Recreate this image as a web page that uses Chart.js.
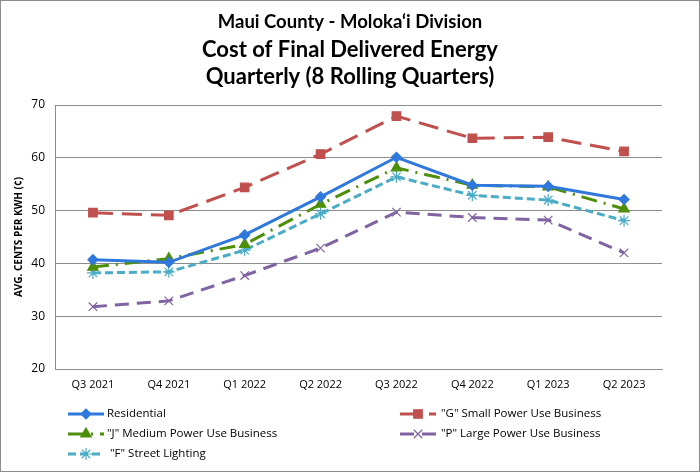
<!DOCTYPE html>
<html>
<head>
<meta charset="utf-8">
<script src="https://cdn.jsdelivr.net/npm/chart.js@4/dist/chart.umd.min.js"></script>
<style>
    html, body { margin: 0; padding: 0; background: #fff; }
    #wrap { position: relative; width: 698px; height: 470px; border: 1px solid #8c8c8c; }
</style>
</head>
<body>
<div id="wrap"><canvas id="costChart" width="698" height="470"></canvas></div>
<script>
// quarters on the x axis
const quarters = ['Q3 2021', 'Q4 2021', 'Q1 2022', 'Q2 2022', 'Q3 2022', 'Q4 2022', 'Q1 2023', 'Q2 2023'];

// avg cents per kWh
const residential = [40.7, 40.2, 45.4, 52.6, 60.1, 54.8, 54.6, 52.1];
const smallPower  = [49.6, 49.1, 54.4, 60.7, 67.9, 63.7, 63.9, 61.2];
const mediumPower = [39.3, 40.9, 43.6, 51.2, 58.1, 54.8, 54.5, 50.3];
const largePower  = [31.8, 32.9, 37.7, 42.9, 49.7, 48.7, 48.2, 42.0];
const streetLight = [38.2, 38.4, 42.5, 49.4, 56.4, 52.9, 52.0, 48.1];

const yTicks = [20, 30, 40, 50, 60, 70];

const titleLines = ['Maui County - Moloka‘i Division', 'Cost of Final Delivered Energy', 'Quarterly (8 Rolling Quarters)'];

const FONT = "'Open Sans', 'DejaVu Sans', sans-serif";
const TITLE_FONT = "Lato, 'Noto Sans', sans-serif";

function series(label, data, color, dash, style, radius) {
    return {
        label: label,
        data: data,
        borderColor: color,
        backgroundColor: color,
        borderWidth: 3,
        borderDash: dash,
        pointStyle: style,
        pointRadius: radius,
        pointHoverRadius: radius,
        pointBackgroundColor: color,
        pointBorderColor: color,
        pointBorderWidth: 1.2,
        tension: 0
    };
}

// title centred on the whole canvas (built-in one centres on the padded box)
const centredTitle = {
    id: 'centredTitle',
    afterDraw(chart) {
        const ctx = chart.ctx;
        const cx = chart.width / 2;
        ctx.save();
        ctx.fillStyle = '#000';
        ctx.textAlign = 'center';
        ctx.textBaseline = 'middle';
        ctx.font = 'bold 18.5px ' + TITLE_FONT;
        ctx.fillText(titleLines[0], cx, 21);
        ctx.font = 'bold 22px ' + TITLE_FONT;
        ctx.fillText(titleLines[1], cx, 49);
        ctx.fillText(titleLines[2], cx, 76);
        ctx.restore();
    }
};

// draws the two-column legend under the axis
const bottomLegend = {
    id: 'bottomLegend',
    afterDraw(chart) {
        const ctx = chart.ctx;
        const spots = [[67, 413, 106], [399, 413, 440], [67, 433, 106], [399, 433, 440], [67, 453, 109]];
        chart.data.datasets.forEach((ds, i) => {
            const [x, y, tx] = spots[i];
            ctx.save();
            ctx.strokeStyle = ds.borderColor;
            ctx.lineWidth = 3;
            ctx.setLineDash(ds.borderDash || []);
            ctx.beginPath();
            ctx.moveTo(x, y);
            ctx.lineTo(x + 36, y);
            ctx.stroke();
            ctx.setLineDash([]);
            ctx.fillStyle = ds.pointBackgroundColor;
            ctx.strokeStyle = ds.pointBorderColor;
            ctx.lineWidth = ds.pointBorderWidth;
            Chart.helpers.drawPoint(ctx, { pointStyle: ds.pointStyle, radius: ds.pointRadius, borderWidth: ds.pointBorderWidth }, x + 18, y);
            ctx.fillStyle = '#000';
            ctx.font = '11.5px ' + FONT;
            ctx.textBaseline = 'middle';
            ctx.textAlign = 'left';
            ctx.fillText(ds.label, tx, y);
            ctx.restore();
        });
    }
};

const ctx = document.getElementById('costChart').getContext('2d');
const costChart = new Chart(ctx, {
    type: 'line',
    data: {
        labels: quarters,
        datasets: [
            series('Residential', residential, '#2f78dc', [], 'rectRot', 5),
            series('"G" Small Power Use Business', smallPower, '#c0504d', [20, 9], 'rect', 6),
            series('"J" Medium Power Use Business', mediumPower, '#4e8f0a', [16, 7, 2, 7], 'triangle', 6),
            series('"P" Large Power Use Business', largePower, '#8064a2', [14, 8], 'crossRot', 6),
            series('"F" Street Lighting', streetLight, '#4bacc6', [8, 4], 'star', 6)
        ]
    },
    options: {
        responsive: false,
        animation: false,
        devicePixelRatio: 1,
        layout: { padding: { left: 0, right: 37, top: 104, bottom: 78 } },
        plugins: {
            legend: { display: false },
            tooltip: { enabled: false },
            title: { display: false }
        },
        scales: {
            x: {
                offset: true,
                grid: { display: false, drawTicks: false },
                border: { color: '#8c8c8c' },
                ticks: { color: '#000', font: { family: FONT, size: 11 }, padding: 9, maxRotation: 0 },
                afterFit(scale) { scale.height = 24; }
            },
            y: {
                min: 20,
                max: 70,
                afterBuildTicks(scale) { scale.ticks = yTicks.map(v => ({ value: v })); },
                grid: { color: '#8c8c8c', drawTicks: false },
                border: { color: '#8c8c8c' },
                ticks: { color: '#000', font: { family: FONT, size: 12 }, padding: 10 },
                title: {
                    display: true,
                    text: 'AVG. CENTS PER KWH (¢)',
                    color: '#000',
                    font: { family: FONT, size: 10, weight: 'bold' },
                    padding: { top: 12, bottom: 4 }
                },
                afterFit(scale) { scale.width = 54; }
            }
        }
    },
    plugins: [centredTitle, bottomLegend]
});
</script>
</body>
</html>
